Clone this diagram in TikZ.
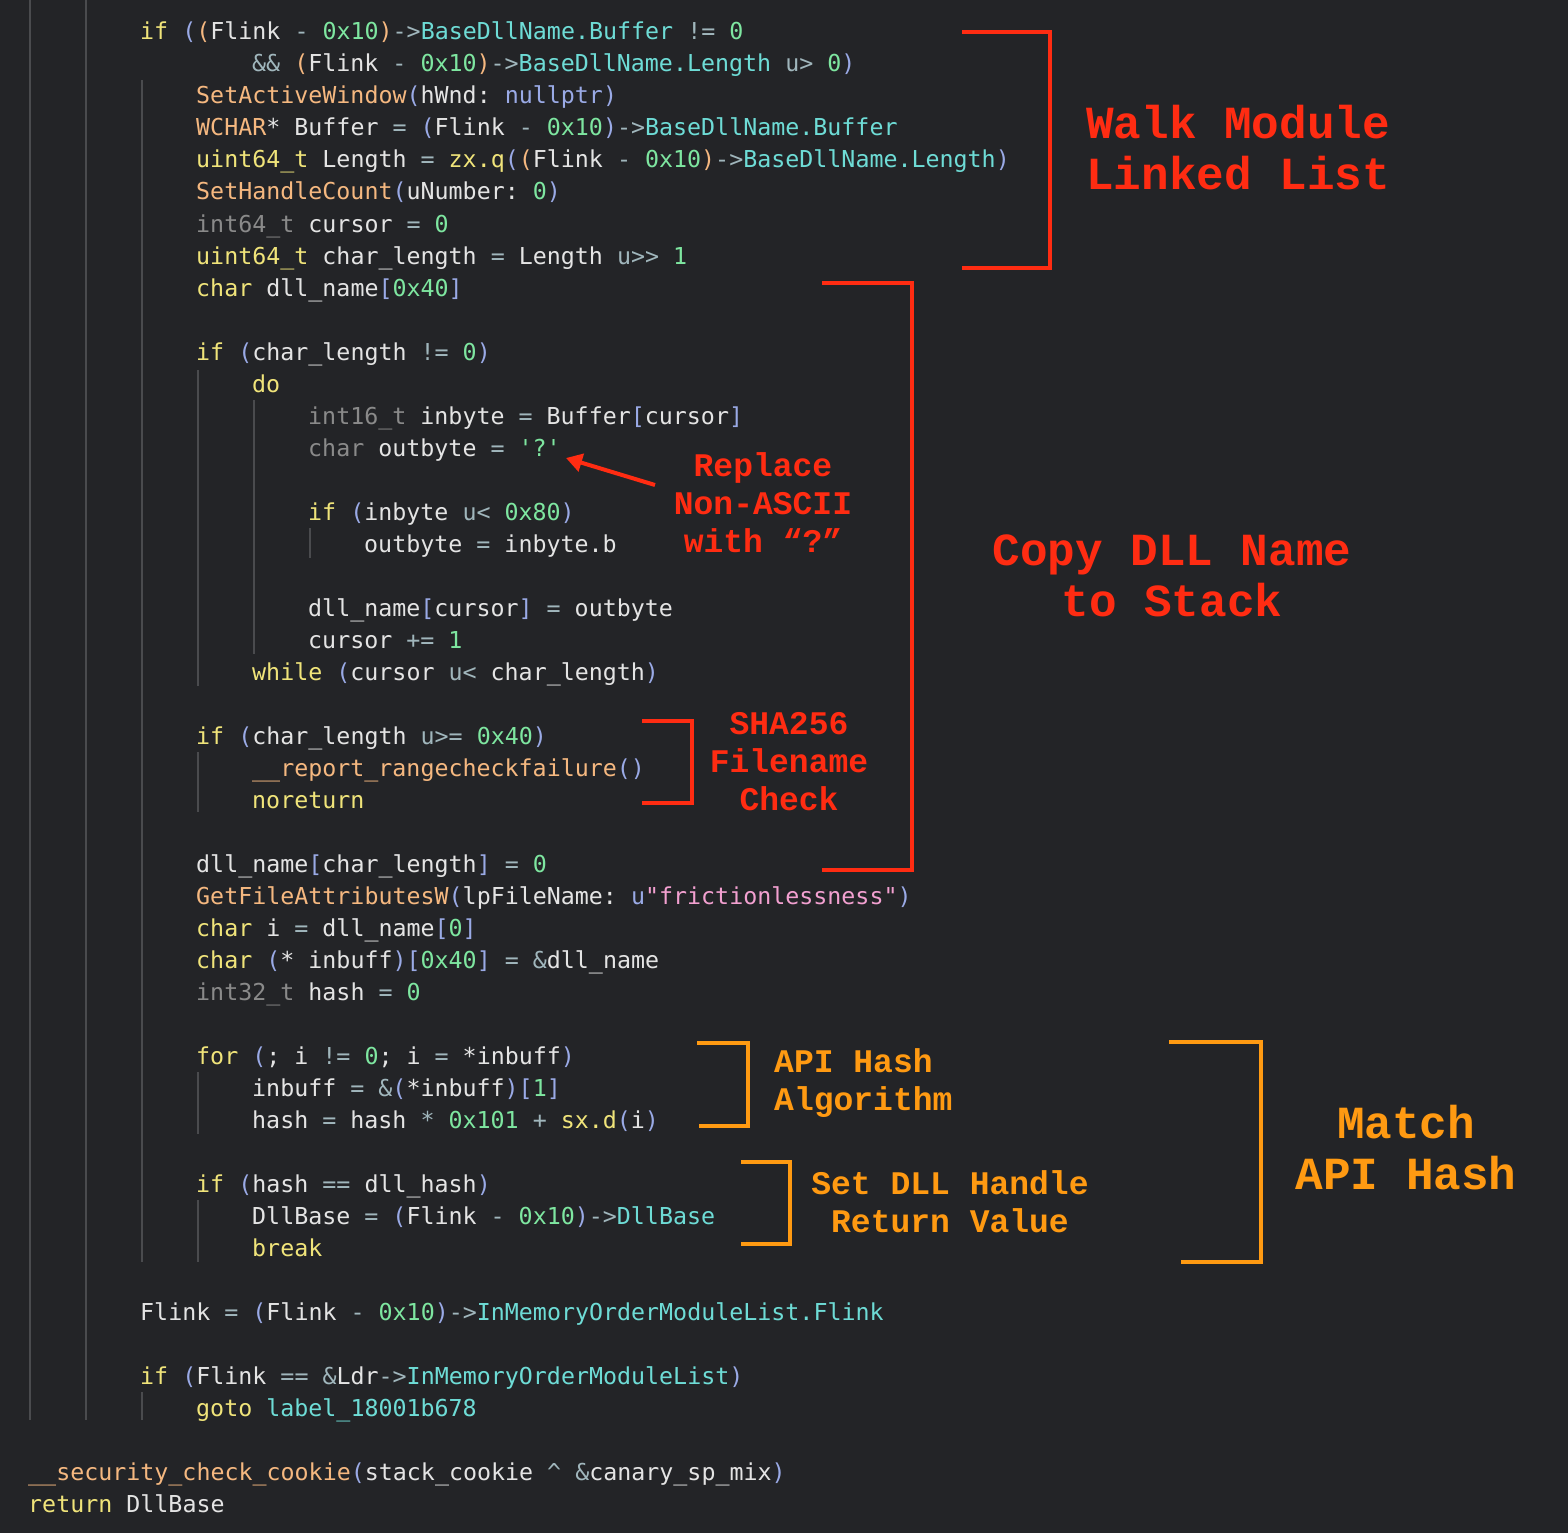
\documentclass[tikz,border=0pt]{standalone}
\usepackage{fontspec}
\newfontfamily\codefont{DejaVu Sans Mono}
\newfontfamily\annfont{Liberation Mono}
\usetikzlibrary{arrows.meta}
\frenchspacing
\definecolor{bgc}{HTML}{232427}
\definecolor{txw}{HTML}{E4E4E4}
\definecolor{kwy}{HTML}{F0E47A}
\definecolor{fno}{HTML}{F5B880}
\definecolor{nmg}{HTML}{7EE6A0}
\definecolor{fdc}{HTML}{6EDCD6}
\definecolor{tyg}{HTML}{8A8A8A}
\definecolor{prl}{HTML}{9AAAE6}
\definecolor{opc}{HTML}{A0B6BC}
\definecolor{stp}{HTML}{F2A0D0}
\definecolor{gdl}{HTML}{4A4B4E}
\definecolor{anr}{HTML}{FF2C12}
\definecolor{ano}{HTML}{FF9A12}
\newcommand\cY[1]{\textcolor{kwy}{#1}}
\newcommand\cO[1]{\textcolor{fno}{#1}}
\newcommand\cG[1]{\textcolor{nmg}{#1}}
\newcommand\cC[1]{\textcolor{fdc}{#1}}
\newcommand\cT[1]{\textcolor{tyg}{#1}}
\newcommand\cP[1]{\textcolor{prl}{#1}}
\newcommand\cE[1]{\textcolor{opc}{#1}}
\newcommand\cS[1]{\textcolor{stp}{#1}}
\newcommand\Ln[4]{\node[code] (#1) at (#2,#3+8) {#4};}
\tikzset{
 code/.style={anchor=base west,inner sep=0pt,text=txw,font=\codefont\frenchspacing\fontsize{23.3}{28}\selectfont},
 guide/.style={draw=gdl,line width=1.5pt},
 annR/.style={text=anr,font=\annfont\bfseries\fontsize{33}{38}\selectfont,align=center,inner sep=0pt},
 annRB/.style={text=anr,font=\annfont\bfseries\fontsize{46}{53}\selectfont,inner sep=0pt},
 annO/.style={text=ano,font=\annfont\bfseries\fontsize{33}{38}\selectfont,inner sep=0pt},
 annOB/.style={text=ano,font=\annfont\bfseries\fontsize{46}{53}\selectfont,align=center,inner sep=0pt},
 brR/.style={draw=anr,line width=4pt},
 brO/.style={draw=ano,line width=4pt},
}
\begin{document}
\begin{tikzpicture}[x=1pt,y=-1pt]
\fill[bgc] (0,0) rectangle (1568,1533);
\useasboundingbox (0,0) rectangle (1568,1533);
% indent guides
\draw[guide] (30,0) -- (30,1420);
\draw[guide] (86,0) -- (86,1420);
\draw[guide] (142,80) -- (142,1262);
\draw[guide] (198,370) -- (198,686);
\draw[guide] (254,400) -- (254,654);
\draw[guide] (310,528) -- (310,558);
\draw[guide] (198,752) -- (198,812);
\draw[guide] (198,1072) -- (198,1134);
\draw[guide] (198,1200) -- (198,1262);
\draw[guide] (142,1392) -- (142,1420);
% code
\Ln{a1}{140}{32}{\cY{if} \cP{(}\cO{(}Flink \cE{-} \cG{0x10}\cO{)}\cE{->}\cC{BaseDllName.Buffer} \cE{!=} \cG{0}}
\Ln{a2}{252}{64}{\cE{\&\&} \cO{(}Flink \cE{-} \cG{0x10}\cO{)}\cE{->}\cC{BaseDllName.Length} \cE{u>} \cG{0}\cP{)}}
\Ln{a3}{196}{96}{\cO{SetActiveWindow}\cP{(}hWnd: \cP{nullptr}\cP{)}}
\Ln{a4}{196}{128}{\cO{WCHAR}* Buffer \cE{=} \cP{(}Flink \cE{-} \cG{0x10}\cP{)}\cE{->}\cC{BaseDllName.Buffer}}
\Ln{a5}{196}{160}{\cY{uint64\_t} Length \cE{=} \cY{zx.q}\cP{(}\cO{(}Flink \cE{-} \cG{0x10}\cO{)}\cE{->}\cC{BaseDllName.Length}\cP{)}}
\Ln{a6}{196}{192}{\cO{SetHandleCount}\cP{(}uNumber: \cG{0}\cP{)}}
\Ln{a7}{196}{224}{\cT{int64\_t} cursor \cE{=} \cG{0}}
\Ln{a8}{196}{256}{\cY{uint64\_t} char\_length \cE{=} Length \cE{u>>} \cG{1}}
\Ln{a9}{196}{288}{\cY{char} dll\_name\cP{[}\cG{0x40}\cP{]}}
\Ln{b1}{196}{352}{\cY{if} \cP{(}char\_length \cE{!=} \cG{0}\cP{)}}
\Ln{b2}{252}{384}{\cY{do}}
\Ln{b3}{308}{416}{\cT{int16\_t} inbyte \cE{=} Buffer\cP{[}cursor\cP{]}}
\Ln{b4}{308}{448}{\cT{char} outbyte \cE{=} \cG{\char39?\char39}}
\Ln{b5}{308}{512}{\cY{if} \cP{(}inbyte \cE{u<} \cG{0x80}\cP{)}}
\Ln{b6}{364}{544}{outbyte \cE{=} inbyte.b}
\Ln{b7}{308}{608}{dll\_name\cP{[}cursor\cP{]} \cE{=} outbyte}
\Ln{b8}{308}{640}{cursor \cE{+=} \cG{1}}
\Ln{b9}{252}{672}{\cY{while} \cP{(}cursor \cE{u<} char\_length\cP{)}}
\Ln{c1}{196}{736}{\cY{if} \cP{(}char\_length \cE{u>=} \cG{0x40}\cP{)}}
\Ln{c2}{252}{768}{\cO{\_\_report\_rangecheckfailure}\cP{()}}
\Ln{c3}{252}{800}{\cY{noreturn}}
\Ln{d1}{196}{864}{dll\_name\cP{[}char\_length\cP{]} \cE{=} \cG{0}}
\Ln{d2}{196}{896}{\cO{GetFileAttributesW}\cP{(}lpFileName: \cP{u}\cS{\char34 frictionlessness\char34}\cP{)}}
\Ln{d3}{196}{928}{\cY{char} i \cE{=} dll\_name\cP{[}\cG{0}\cP{]}}
\Ln{d4}{196}{960}{\cY{char} \cP{(}* inbuff\cP{)[}\cG{0x40}\cP{]} \cE{=} \cE{\&}dll\_name}
\Ln{d5}{196}{992}{\cT{int32\_t} hash \cE{=} \cG{0}}
\Ln{e1}{196}{1056}{\cY{for} \cP{(}; i \cE{!=} \cG{0}; i \cE{=} *inbuff\cP{)}}
\Ln{e2}{252}{1088}{inbuff \cE{=} \cE{\&}\cP{(}*inbuff\cP{)[}\cG{1}\cP{]}}
\Ln{e3}{252}{1120}{hash \cE{=} hash \cE{*} \cG{0x101} \cE{+} \cY{sx.d}\cP{(}i\cP{)}}
\Ln{f1}{196}{1184}{\cY{if} \cP{(}hash \cE{==} dll\_hash\cP{)}}
\Ln{f2}{252}{1216}{DllBase \cE{=} \cP{(}Flink \cE{-} \cG{0x10}\cP{)}\cE{->}\cC{DllBase}}
\Ln{f3}{252}{1248}{\cY{break}}
\Ln{g1}{140}{1312}{Flink \cE{=} \cP{(}Flink \cE{-} \cG{0x10}\cP{)}\cE{->}\cC{InMemoryOrderModuleList.Flink}}
\Ln{g2}{140}{1376}{\cY{if} \cP{(}Flink \cE{==} \cE{\&}Ldr\cE{->}\cC{InMemoryOrderModuleList}\cP{)}}
\Ln{g3}{196}{1408}{\cY{goto} \cC{label\_18001b678}}
\Ln{h1}{28}{1472}{\cO{\_\_security\_check\_cookie}\cP{(}stack\_cookie \cE{\char94} \cE{\&}canary\_sp\_mix\cP{)}}
\Ln{h2}{28}{1504}{\cY{return} DllBase}
% annotations
\draw[brR] (962,32) -- (1050,32) -- (1050,268) -- (962,268);
\node[annRB,anchor=west,align=left] (t1) at (1086,148) {Walk Module\\[-2pt]Linked List};
\draw[brR] (822,283) -- (912,283) -- (912,870) -- (822,870);
\node[annRB,align=center] (t2) at (1172,576) {Copy DLL Name\\[-2pt]to Stack};
\node[annR] (t3) at (763,503) {Replace\\Non-ASCII\\with “?”};
\coordinate (q) at (566,458);
\draw[draw=anr,line width=4pt,-{Triangle[length=16pt,width=18pt]}] (655,485) -- (q);
\draw[brR] (642,721) -- (692,721) -- (692,803) -- (642,803);
\node[annR] (t4) at (789,762) {SHA256\\Filename\\Check};
\draw[brO] (697,1043) -- (748,1043) -- (748,1126) -- (699,1126);
\node[annO,anchor=west,align=left] (t5) at (774,1083) {API Hash\\Algorithm};
\draw[brO] (741,1162) -- (790,1162) -- (790,1244) -- (741,1244);
\node[annO,align=center] (t6) at (950,1202) {Set DLL Handle\\Return Value};
\draw[brO] (1169,1042) -- (1261,1042) -- (1261,1262) -- (1181,1262);
\node[annOB] (t7) at (1406,1148) {Match\\[-2pt]API Hash};
\end{tikzpicture}
\end{document}
